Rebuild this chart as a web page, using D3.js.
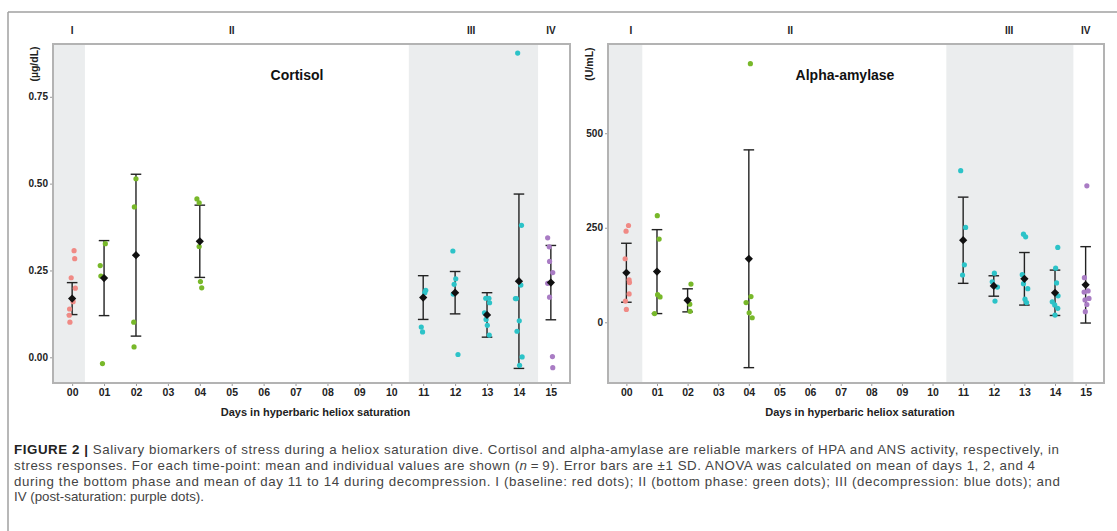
<!DOCTYPE html>
<html>
<head>
<meta charset="utf-8">
<script src="https://cdn.jsdelivr.net/npm/d3@7"></script>
<style>
  body { margin: 0; background: #fff; }
  svg { display: block; font-family: "Liberation Sans", Arial, sans-serif; }
  .tick text { font-weight: bold; fill: #222; }
</style>
</head>
<body>
<svg id="figure" width="1117" height="531"></svg>
<script>
// ---- data ----
const dayLabels = ["00", "01", "02", "03", "04", "05", "06", "07", "08", "09", "10", "11", "12", "13", "14", "15"];
const phaseLabels = ["I", "II", "III", "IV"];
const phaseColors = ["#f08a85", "#78b82a", "#2cc3c8", "#a97cc4"];
const sampledDays = [0, 1, 2, 4, 11, 12, 13, 14, 15];

// Cortisol (µg/dL)
const cortisolTicks = [0, 0.25, 0.5, 0.75];
const cortisolPhaseDays = [0, 5, 12.5, 15];
const cortisolMean = [0.169, 0.228, 0.294, 0.334, 0.172, 0.186, 0.122, 0.219, 0.215];
const cortisolSD = [0.046, 0.108, 0.233, 0.104, 0.063, 0.061, 0.064, 0.251, 0.107];
const cortisolValues = [
    [0.307, 0.284, 0.229, 0.199, 0.160, 0.139, 0.121, 0.101],
    [0.327, 0.264, 0.234, -0.018],
    [0.514, 0.433, 0.101, 0.030],
    [0.456, 0.445, 0.319, 0.218, 0.200],
    [0.193, 0.186, 0.087, 0.073],
    [0.306, 0.226, 0.210, 0.182, 0.008],
    [0.170, 0.170, 0.157, 0.128, 0.109, 0.092, 0.064],
    [0.876, 0.380, 0.208, 0.169, 0.169, 0.105, 0.075, 0.001, -0.023],
    [0.344, 0.318, 0.276, 0.244, 0.213, 0.173, 0.002, -0.030]
];
const cortisolJitter = [
    [0.06, 0.08, -0.03, 0.10, 0.03, -0.08, -0.09, -0.07],
    [0.04, -0.12, -0.10, -0.05],
    [0, -0.05, -0.07, -0.06],
    [-0.09, -0.02, -0.02, 0.02, 0.06],
    [0.08, 0.05, -0.06, -0.02],
    [-0.07, 0.02, -0.03, -0.06, 0.09],
    [-0.04, 0.06, 0.08, -0.08, -0.03, 0.01, 0.07],
    [-0.04, 0.08, 0.06, -0.08, -0.11, 0.01, -0.06, 0.10, 0.02],
    [-0.10, -0.05, -0.04, 0.06, -0.10, -0.04, 0.05, 0.06]
];

// Alpha-amylase (U/mL)
const amylaseTicks = [0, 250, 500];
const amylasePhaseDays = [0.15, 5.35, 12.5, 15];
const amylaseMean = [131, 134, 58, 168, 217, 96, 115, 78, 99];
const amylaseSD = [78, 111, 30.5, 288, 114, 27, 69.5, 60, 101];
const amylaseValues = [
    [256, 241, 168, 112, 105, 75, 56, 34],
    [282, 220, 73, 67, 23],
    [101, 48, 29],
    [684, 68, 52, 25, 12],
    [401, 251, 152, 125],
    [130, 107, 93, 56],
    [233, 226, 126, 102, 89, 61, 52],
    [198, 143, 104, 70, 54, 46, 37, 19],
    [361, 118, 83, 80, 63, 59, 47, 28]
];
const amylaseJitter = [
    [0.07, -0.01, -0.04, 0.09, 0.10, 0.09, -0.03, 0],
    [0.01, 0.07, 0.02, 0.10, -0.08],
    [0.11, 0.07, 0.08],
    [0.05, 0.07, -0.09, 0.01, 0.11],
    [-0.08, 0.08, 0.04, -0.02],
    [0.02, -0.05, 0.12, 0.04],
    [-0.03, 0.04, -0.07, -0.03, 0.11, 0.02, 0.07],
    [0.09, 0.02, 0.05, 0.10, -0.09, -0.01, 0.09, 0],
    [0.04, -0.04, 0.08, -0.05, 0.11, -0.02, 0.04, -0.01]
];

const captionLines = [
    "Salivary biomarkers of stress during a heliox saturation dive. Cortisol and alpha-amylase are reliable markers of HPA and ANS activity, respectively, in",
    "stress responses. For each time-point: mean and individual values are shown (",
    "during the bottom phase and mean of day 11 to 14 during decompression. I (baseline: red dots); II (bottom phase: green dots); III (decompression: blue dots); and",
    "IV (post-saturation: purple dots)."
];

// colour of a day, by phase
function phaseIndex(day) {
    if (day === 0) return 0;
    if (day <= 10) return 1;
    if (day <= 14) return 2;
    return 3;
}

let svg = d3.select("#figure");

// Outer frame: a top rule and a left rule
svg.append("line").attr("x1", 8).attr("x2", 1117).attr("y1", 12).attr("y2", 12)
    .attr("stroke", "#a0a0a0").attr("stroke-width", 1.5);
svg.append("line").attr("x1", 8).attr("x2", 8).attr("y1", 12).attr("y2", 531)
    .attr("stroke", "#a0a0a0").attr("stroke-width", 1.5);

// Draws one panel of the figure
function drawPanel(p) {
    let g = svg.append("g");
    let xScale = d3.scaleLinear().domain([-0.6, 15.6]).range([p.left, p.right]);
    let yScale = d3.scaleLinear().domain(p.yDomain).range([p.bottom, p.top]);

    // shaded phases I and III
    p.bands.forEach((b) => {
        g.append("rect")
            .attr("x", xScale(b[0]))
            .attr("y", p.top)
            .attr("width", xScale(b[1]) - xScale(b[0]))
            .attr("height", p.bottom - p.top)
            .attr("fill", "#ebedee");
    });

    // axes
    let xAxis = d3.axisBottom(xScale)
        .tickValues(d3.range(dayLabels.length))
        .tickFormat((i) => dayLabels[i])
        .tickSize(3).tickPadding(3);
    let gx = g.append("g")
        .attr("class", "x axis")
        .attr("transform", "translate(0," + p.bottom + ")")
        .call(xAxis);
    gx.select(".domain").remove();
    gx.selectAll("line").attr("stroke", "#999");
    gx.selectAll("text").style("font-size", "10.5px");

    let yAxis = d3.axisLeft(yScale)
        .tickValues(p.ticks)
        .tickFormat(p.format)
        .tickSize(3).tickPadding(2);
    let gy = g.append("g")
        .attr("class", "y axis")
        .attr("transform", "translate(" + p.left + ",0)")
        .call(yAxis);
    gy.select(".domain").remove();
    gy.selectAll("line").attr("stroke", "#999");
    gy.selectAll("text").style("font-size", "10px");

    // panel border
    g.append("rect")
        .attr("x", p.left).attr("y", p.top)
        .attr("width", p.right - p.left).attr("height", p.bottom - p.top)
        .attr("fill", "none").attr("stroke", "#b3b3b3").attr("stroke-width", 2);

    // error bars (mean ± SD)
    let bars = g.append("g").attr("class", "errorbars");
    sampledDays.forEach((day, i) => {
        let x = xScale(day);
        let y1 = yScale(p.mean[i] + p.sd[i]);
        let y0 = yScale(p.mean[i] - p.sd[i]);
        bars.append("line").attr("x1", x).attr("x2", x).attr("y1", y1).attr("y2", y0);
        bars.append("line").attr("x1", x - 5.3).attr("x2", x + 5.3).attr("y1", y1).attr("y2", y1);
        bars.append("line").attr("x1", x - 5.3).attr("x2", x + 5.3).attr("y1", y0).attr("y2", y0);
    });
    bars.selectAll("line").attr("stroke", "#222").attr("stroke-width", 1.4);

    // individual values
    let points = [];
    sampledDays.forEach((day, i) => {
        p.values[i].forEach((v, j) => {
            points.push({ day: day, x: day + p.jitter[i][j], v: v });
        });
    });
    g.append("g").selectAll("circle")
        .data(points)
        .enter()
        .append("circle")
        .attr("cx", (d) => xScale(d.x))
        .attr("cy", (d) => yScale(d.v))
        .attr("r", 2.6)
        .attr("fill", (d) => phaseColors[phaseIndex(d.day)]);

    // means
    g.append("g").selectAll("path")
        .data(sampledDays)
        .enter()
        .append("path")
        .attr("d", d3.symbol(d3.symbolSquare, 34))
        .attr("transform", (d, i) => "translate(" + xScale(d) + "," + yScale(p.mean[i]) + ") rotate(45)")
        .attr("fill", "#111");

    // phase labels above the panel
    phaseLabels.forEach((lab, i) => {
        g.append("text")
            .attr("x", xScale(p.phaseDays[i]))
            .attr("y", 34)
            .attr("text-anchor", "middle")
            .style("font-size", "10px")
            .style("font-weight", "bold")
            .attr("fill", "#222")
            .text(lab);
    });

    // panel title
    g.append("text")
        .attr("x", p.titleX)
        .attr("y", 80)
        .attr("text-anchor", "middle")
        .style("font-size", "14px")
        .style("font-weight", "bold")
        .attr("fill", "#111")
        .text(p.title);

    // unit label
    g.append("text")
        .attr("transform", "translate(" + (p.left - 15) + ",64) rotate(-90)")
        .attr("text-anchor", "middle")
        .style("font-size", "10.5px")
        .style("font-weight", "bold")
        .attr("fill", "#222")
        .text(p.unit);

    // x axis title
    g.append("text")
        .attr("x", (p.left + p.right) / 2 + 4)
        .attr("y", 416)
        .attr("text-anchor", "middle")
        .style("font-size", "11px")
        .style("font-weight", "bold")
        .attr("fill", "#222")
        .text("Days in hyperbaric heliox saturation");
}

drawPanel({
    left: 53, right: 570, top: 44, bottom: 383,
    yDomain: [-0.074, 0.902],
    ticks: cortisolTicks, format: d3.format(".2f"),
    bands: [[-0.6, 0.4], [10.55, 14.6]],
    phaseDays: cortisolPhaseDays,
    mean: cortisolMean, sd: cortisolSD,
    values: cortisolValues, jitter: cortisolJitter,
    title: "Cortisol", titleX: 297, unit: "(\u00b5g/dL)"
});

drawPanel({
    left: 608, right: 1104, top: 44, bottom: 383,
    yDomain: [-160.6, 736],
    ticks: amylaseTicks, format: d3.format("d"),
    bands: [[-0.6, 0.52], [10.45, 14.6]],
    phaseDays: amylasePhaseDays,
    mean: amylaseMean, sd: amylaseSD,
    values: amylaseValues, jitter: amylaseJitter,
    title: "Alpha-amylase", titleX: 845, unit: "(U/mL)"
});

// Caption under the figure
let cap = svg.append("g")
    .style("font-size", "13.3px")
    .attr("fill", "#444");

let l1 = cap.append("text").attr("x", 14).attr("y", 454)
    .attr("textLength", 1045).attr("lengthAdjust", "spacing");
l1.append("tspan").style("font-weight", "bold").attr("fill", "#222").text("FIGURE 2 | ");
l1.append("tspan").text(captionLines[0]);

let l2 = cap.append("text").attr("x", 14).attr("y", 470)
    .attr("textLength", 1021).attr("lengthAdjust", "spacing");
l2.append("tspan").text(captionLines[1]);
l2.append("tspan").style("font-style", "italic").text("n");
l2.append("tspan").text("\u2009=\u20099). Error bars are \u00b11 SD. ANOVA was calculated on mean of days 1, 2, and 4");

cap.append("text").attr("x", 14).attr("y", 486)
    .attr("textLength", 1046).attr("lengthAdjust", "spacing")
    .text(captionLines[2]);

cap.append("text").attr("x", 14).attr("y", 501)
    .text(captionLines[3]);
</script>
</body>
</html>
